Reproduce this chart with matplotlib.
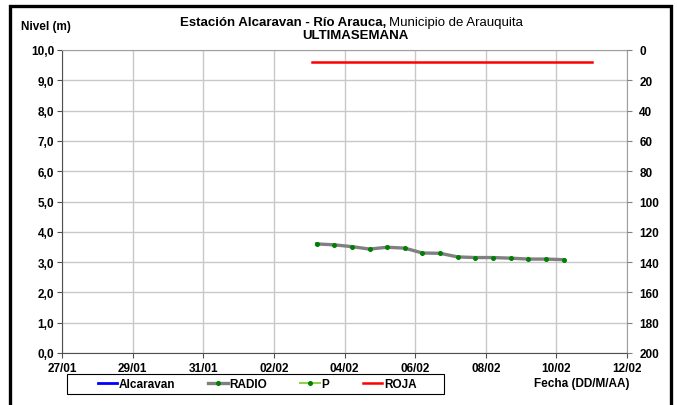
import datetime
import matplotlib
matplotlib.use('Agg')
import matplotlib.pyplot as plt
import matplotlib.dates as mdates
from matplotlib.patches import Rectangle
from matplotlib.ticker import FuncFormatter, MultipleLocator

plt.rcParams['font.family'] = ['Liberation Sans', 'DejaVu Sans']

# data
radio_fechas = ['2014-02-03 05:00', '2014-02-03 17:00', '2014-02-04 05:00', '2014-02-04 17:00',
                '2014-02-05 05:00', '2014-02-05 17:00', '2014-02-06 05:00', '2014-02-06 17:00',
                '2014-02-07 05:00', '2014-02-07 17:00', '2014-02-08 05:00', '2014-02-08 17:00',
                '2014-02-09 05:00', '2014-02-09 17:00', '2014-02-10 05:00']
radio_nivel = [3.60, 3.57, 3.51, 3.43, 3.49, 3.46, 3.30, 3.29, 3.17, 3.15, 3.15, 3.13, 3.10, 3.10, 3.08]
roja_fechas = ['2014-02-03 02:00', '2014-02-11 00:00']
roja_nivel = [9.6, 9.6]
x_inicio = '2014-01-27'
x_fin = '2014-02-12'

def to_dt(s):
    return datetime.datetime.fromisoformat(s)

W, H = 677, 406
FS = 8.5
fig = plt.figure(figsize=(6.77, 4.06), dpi=100)
ax = fig.add_axes([62/W, 1-354/H, 565/W, 303/H])

ax.plot([], [], color='#0000ff', lw=2, label='Alcaravan')
ax.plot(list(map(to_dt, radio_fechas)), radio_nivel, color='#808080', lw=2.4,
        marker='o', ms=2.6, mfc='#008000', mec='#008000', label='RADIO', zorder=4)
ax.plot([], [], color='#92d050', lw=1.5, marker='o', ms=2.6, mfc='#008000', mec='#008000', label='P')
ax.plot(list(map(to_dt, roja_fechas)), roja_nivel, color='#ff0000', lw=1.8, label='ROJA', zorder=4)

ax.set_xlim(to_dt(x_inicio), to_dt(x_fin))
ax.set_ylim(0, 10)
ax.yaxis.set_major_locator(MultipleLocator(1))
ax.yaxis.set_major_formatter(FuncFormatter(lambda v, p: ('%.1f' % v).replace('.', ',')))
ax.xaxis.set_major_locator(mdates.DayLocator(interval=2))
ax.xaxis.set_major_formatter(mdates.DateFormatter('%d/%m'))
ax.grid(True, color='#c8c8c8', lw=1)
ax.set_axisbelow(True)
for s in ['top', 'right']:
    ax.spines[s].set_color('#a0a0a0')
for s in ['left', 'bottom']:
    ax.spines[s].set_color('#505050')
ax.tick_params(axis='both', direction='out', length=3.75, width=0.8, color='#505050',
               labelsize=FS, pad=2)
ax.tick_params(axis='x', pad=3)
for lbl in ax.get_xticklabels() + ax.get_yticklabels():
    lbl.set_fontweight('bold')

ax2 = ax.twinx()
ax2.set_ylim(200, 0)
ax2.yaxis.set_major_locator(MultipleLocator(20))
ax2.tick_params(axis='y', direction='out', length=3.75, width=0.8, color='#808080',
                labelsize=FS, pad=5)
for lbl in ax2.get_yticklabels():
    lbl.set_fontweight('bold')
for s in ax2.spines.values():
    s.set_visible(False)

# titles
fig.text(386/W, 1-23/H, 'Estación Alcaravan - Río Arauca,', ha='right', va='center',
         fontsize=9.5, fontweight='bold')
fig.text(389/W, 1-23/H, 'Municipio de Arauquita', ha='left', va='center', fontsize=9.5)
fig.text(355/W, 1-36/H, 'ULTIMASEMANA', ha='center', va='center', fontsize=9.5, fontweight='bold')
fig.text(21/W, 1-27/H, 'Nivel (m)', ha='left', va='center', fontsize=FS, fontweight='bold')
fig.text(629/W, 1-384/H, 'Fecha (DD/M/AA)', ha='right', va='center', fontsize=FS, fontweight='bold')

# legend (box drawn separately so it can match the reference width)
leg = fig.legend(loc='center', bbox_to_anchor=(257/W, 1-385/H), ncol=4, frameon=False,
                 handlelength=1.65, columnspacing=2.8, handletextpad=0.15,
                 prop={'weight': 'bold', 'size': FS})
fig.patches.append(Rectangle((67/W, 1-395/H), 377/W, 20/H, transform=fig.transFigure,
                             fill=False, ec='black', lw=0.8))

fig.patches.append(Rectangle((10/W, -0.05), 661/W, 1.05-6.5/H, transform=fig.transFigure,
                             fill=False, ec='black', lw=2.4, clip_on=False))

fig.savefig('out.png', dpi=100)
